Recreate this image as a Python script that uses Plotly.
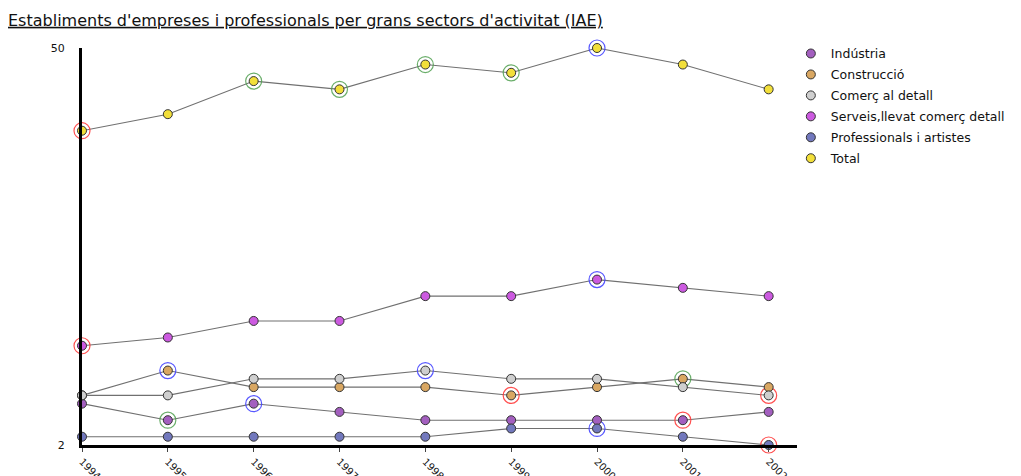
import plotly.graph_objects as go

years = [1994, 1995, 1996, 1997, 1998, 1999, 2000, 2001, 2002]
year_labels = [str(y) for y in years]

series_names = ["Indústria", "Construcció", "Comerç al detall",
                "Serveis,llevat comerç detall", "Professionals i artistes", "Total"]
industria = [7, 5, 7, 6, 5, 5, 5, 5, 6]
construccio = [8, 11, 9, 9, 9, 8, 9, 10, 9]
comerc = [8, 8, 10, 10, 11, 10, 10, 9, 8]
serveis = [14, 15, 17, 17, 20, 20, 22, 21, 20]
professionals = [3, 3, 3, 3, 3, 4, 4, 3, 2]
total = [40, 42, 46, 45, 48, 47, 50, 48, 45]
series_values = [industria, construccio, comerc, serveis, professionals, total]
colors = ["#a35fbf", "#d9a762", "#cfcfcf", "#cc5ae0", "#7278bd", "#f2df3a"]

# highlighted points (indices into years)
ring_red = {"Indústria": [7], "Construcció": [5], "Comerç al detall": [8],
            "Serveis,llevat comerç detall": [0], "Professionals i artistes": [8], "Total": [0]}
ring_blue = {"Indústria": [2], "Construcció": [1], "Comerç al detall": [4],
             "Serveis,llevat comerç detall": [6], "Professionals i artistes": [6], "Total": [6]}
ring_green = {"Indústria": [1], "Construcció": [7], "Comerç al detall": [],
              "Serveis,llevat comerç detall": [], "Professionals i artistes": [], "Total": [2, 3, 4, 5]}
ring_colors = {"red": "rgba(255,60,60,0.9)", "blue": "rgba(70,70,255,0.9)", "green": "rgba(80,160,80,0.85)"}

fig = go.Figure()

# lines
for name, vals in zip(series_names, series_values):
    fig.add_trace(go.Scatter(x=years, y=vals, mode="lines", showlegend=False,
                             line=dict(color="#707070", width=1.1), hoverinfo="skip",
                             cliponaxis=False))

# rings
for rings, key in [(ring_red, "red"), (ring_blue, "blue"), (ring_green, "green")]:
    for name, vals in zip(series_names, series_values):
        idx = rings[name]
        if not idx:
            continue
        fig.add_trace(go.Scatter(x=[years[i] for i in idx], y=[vals[i] for i in idx],
                                 mode="markers", showlegend=False, hoverinfo="skip",
                                 cliponaxis=False,
                                 marker=dict(symbol="circle-open", size=16,
                                             color=ring_colors[key],
                                             line=dict(color=ring_colors[key], width=1.2))))

# markers
for name, vals, c in zip(series_names, series_values, colors):
    fig.add_trace(go.Scatter(x=years, y=vals, mode="markers", name=name,
                             legendgroup=name, cliponaxis=False,
                             marker=dict(color=c, size=9, line=dict(color="#333333", width=1))))

# The page body has an 8px margin, so the figure is sized to fit the window.
fig.update_layout(
    width=1013, height=468,
    margin=dict(l=74, r=223, t=40, b=31),
    paper_bgcolor="white", plot_bgcolor="white",
    font=dict(family="DejaVu Sans", size=11, color="#000000"),
    title=dict(text="<u>Establiments d'empreses i professionals per grans sectors d'activitat (IAE)</u>",
               x=0.0, xanchor="left", y=0.974, yanchor="middle",
               font=dict(family="DejaVu Sans", size=16, color="#111111")),
    showlegend=True,
    legend=dict(x=0.99, xanchor="left", y=1.023, yanchor="top",
                font=dict(family="DejaVu Sans", size=12.5, color="#111111"),
                tracegroupgap=1.7),
    xaxis=dict(range=[1994, 2002.33], tickvals=years, ticktext=year_labels,
               tickangle=45, showgrid=False, zeroline=False, automargin=False,
               showline=True, linecolor="black", linewidth=3,
               ticks="outside", ticklen=4, tickcolor="#444", tickwidth=1,
               ticklabelstandoff=0,
               tickfont=dict(family="DejaVu Sans", size=10, color="#111")),
    yaxis=dict(range=[2, 50], tickvals=[2, 50], ticktext=["2", "50"],
               showgrid=False, zeroline=False, automargin=False,
               showline=True, linecolor="black", linewidth=3,
               ticks="", ticklabelstandoff=12,
               tickfont=dict(family="DejaVu Sans", size=11, color="#111")),
)

fig.write_html("out.html")
